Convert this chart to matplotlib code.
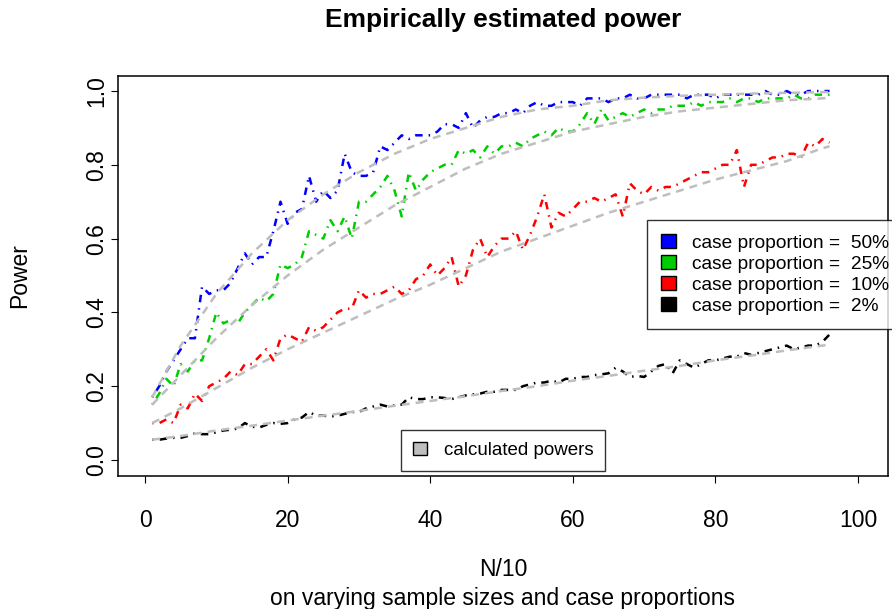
import numpy as np
import matplotlib
matplotlib.use('Agg')
import matplotlib.pyplot as plt
from matplotlib.patches import Patch

plt.rcParams['font.family'] = ['Liberation Sans', 'DejaVu Sans']

# N/10 values of the simulation grid
n = np.arange(1, 97)

# empirical power, one value per N/10
emp50 = [0.17, 0.20, 0.24, 0.27, 0.30, 0.33, 0.33, 0.47, 0.45, 0.46,
         0.46, 0.48, 0.52, 0.56, 0.53, 0.55, 0.55, 0.62, 0.70, 0.64,
         0.67, 0.68, 0.77, 0.70, 0.73, 0.71, 0.73, 0.83, 0.78, 0.77,
         0.77, 0.78, 0.85, 0.84, 0.86, 0.88, 0.87, 0.88, 0.88, 0.88,
         0.89, 0.91, 0.91, 0.90, 0.94, 0.90, 0.92, 0.93, 0.93, 0.94,
         0.94, 0.95, 0.94, 0.96, 0.97, 0.96, 0.96, 0.97, 0.97, 0.97,
         0.96, 0.98, 0.98, 0.98, 0.97, 0.98, 0.98, 0.99, 0.98, 0.98,
         0.99, 0.99, 0.99, 0.99, 0.99, 0.98, 0.99, 0.99, 0.99, 0.98,
         0.99, 0.99, 0.99, 0.99, 0.99, 0.99, 1.00, 0.99, 0.99, 1.00,
         0.99, 0.99, 1.00, 1.00, 1.00, 1.00]
emp25 = [0.15, 0.18, 0.22, 0.20, 0.26, 0.24, 0.27, 0.27, 0.33, 0.40,
         0.37, 0.38, 0.37, 0.40, 0.42, 0.44, 0.43, 0.45, 0.53, 0.52,
         0.53, 0.55, 0.62, 0.61, 0.60, 0.65, 0.62, 0.66, 0.60, 0.70,
         0.70, 0.72, 0.74, 0.77, 0.73, 0.66, 0.78, 0.73, 0.76, 0.78,
         0.79, 0.80, 0.80, 0.84, 0.83, 0.84, 0.82, 0.85, 0.83, 0.85,
         0.85, 0.86, 0.85, 0.87, 0.88, 0.89, 0.88, 0.90, 0.89, 0.89,
         0.91, 0.94, 0.91, 0.95, 0.92, 0.93, 0.94, 0.93, 0.94, 0.95,
         0.94, 0.95, 0.95, 0.96, 0.96, 0.96, 0.97, 0.96, 0.97, 0.97,
         0.97, 0.98, 0.97, 0.98, 0.98, 0.97, 0.98, 0.98, 0.98, 0.98,
         0.99, 0.98, 0.98, 0.99, 0.99, 0.99]
emp10 = [0.10, 0.10, 0.11, 0.10, 0.15, 0.14, 0.18, 0.16, 0.20, 0.21,
         0.22, 0.24, 0.23, 0.26, 0.26, 0.28, 0.30, 0.27, 0.33, 0.34,
         0.33, 0.32, 0.36, 0.35, 0.36, 0.38, 0.40, 0.41, 0.41, 0.46,
         0.44, 0.45, 0.45, 0.46, 0.47, 0.45, 0.46, 0.49, 0.50, 0.53,
         0.50, 0.52, 0.55, 0.47, 0.50, 0.57, 0.60, 0.55, 0.58, 0.60,
         0.60, 0.62, 0.57, 0.61, 0.66, 0.72, 0.63, 0.67, 0.66, 0.68,
         0.70, 0.70, 0.71, 0.70, 0.71, 0.72, 0.66, 0.75, 0.73, 0.72,
         0.74, 0.73, 0.74, 0.74, 0.75, 0.76, 0.77, 0.78, 0.78, 0.79,
         0.80, 0.80, 0.84, 0.74, 0.80, 0.80, 0.81, 0.82, 0.82, 0.83,
         0.83, 0.82, 0.86, 0.85, 0.87, 0.86]
emp02 = [0.055, 0.055, 0.058, 0.060, 0.060, 0.065, 0.072, 0.070, 0.070, 0.075,
         0.080, 0.082, 0.085, 0.100, 0.090, 0.088, 0.095, 0.100, 0.098, 0.100,
         0.110, 0.115, 0.130, 0.120, 0.120, 0.118, 0.120, 0.125, 0.130, 0.130,
         0.140, 0.145, 0.150, 0.145, 0.148, 0.150, 0.170, 0.165, 0.165, 0.170,
         0.170, 0.168, 0.165, 0.170, 0.175, 0.178, 0.180, 0.185, 0.185, 0.190,
         0.190, 0.190, 0.200, 0.205, 0.210, 0.210, 0.215, 0.210, 0.220, 0.220,
         0.225, 0.225, 0.230, 0.232, 0.235, 0.250, 0.240, 0.225, 0.228, 0.225,
         0.240, 0.255, 0.260, 0.235, 0.270, 0.260, 0.250, 0.260, 0.270, 0.270,
         0.275, 0.280, 0.280, 0.290, 0.285, 0.290, 0.295, 0.300, 0.305, 0.310,
         0.300, 0.305, 0.310, 0.310, 0.320, 0.340]

# calculated (theoretical) power
n_calc = [1, 5, 10, 15, 20, 25, 30, 35, 40, 45, 50, 55, 60, 65, 70, 75, 80, 85, 90, 95, 96]
calc50 = [0.17, 0.31, 0.45, 0.56, 0.65, 0.72, 0.78, 0.83, 0.87, 0.90, 0.93,
          0.95, 0.96, 0.975, 0.982, 0.987, 0.99, 0.993, 0.995, 0.997, 0.997]
calc25 = [0.15, 0.23, 0.33, 0.42, 0.50, 0.57, 0.63, 0.69, 0.74, 0.79, 0.83,
          0.86, 0.89, 0.91, 0.93, 0.945, 0.955, 0.965, 0.975, 0.98, 0.982]
calc10 = [0.10, 0.14, 0.195, 0.25, 0.30, 0.345, 0.39, 0.435, 0.475, 0.52, 0.565,
          0.60, 0.635, 0.67, 0.70, 0.73, 0.76, 0.785, 0.81, 0.845, 0.85]
calc02 = [0.055, 0.065, 0.08, 0.093, 0.107, 0.12, 0.133, 0.147, 0.16, 0.173, 0.187,
          0.20, 0.215, 0.228, 0.242, 0.255, 0.27, 0.283, 0.297, 0.31, 0.313]

labels = ['case proportion =  50%', 'case proportion =  25%',
          'case proportion =  10%', 'case proportion =  2%']
colors = ['#0000FF', '#00CD00', '#FF0000', '#000000']

W, H = 892, 609
fig = plt.figure(figsize=(W / 100, H / 100), dpi=100)
ax = fig.add_axes([118 / W, 1 - 476 / H, (888 - 118) / W, (476 - 76) / H])

for y, c in zip([emp50, emp25, emp10, emp02], colors):
    ax.plot(n, y, color=c, lw=1.8, linestyle=(0, (0.6, 2.4, 3.0, 2.4)))
for y in [calc50, calc25, calc10, calc02]:
    ax.plot(n_calc, y, color='#BEBEBE', lw=1.8, linestyle=(0, (3.2, 2.4)))

ax.set_xlim(-3.79, 104.2)
ax.set_ylim(-0.0434, 1.0407)
ax.set_xticks([0, 20, 40, 60, 80, 100])
ax.set_yticks([0.0, 0.2, 0.4, 0.6, 0.8, 1.0])
ax.set_yticklabels(['0.0', '0.2', '0.4', '0.6', '0.8', '1.0'], rotation=90, va='center')
ax.tick_params(axis='both', direction='out', length=5, width=0.8, labelsize=16.5)
ax.tick_params(axis='x', pad=19)
ax.tick_params(axis='y', pad=2)
for s in ax.spines.values():
    s.set_linewidth(1.1)

leg1 = ax.legend([Patch(facecolor=c, edgecolor='black', lw=1) for c in colors], labels,
                 loc='upper left', bbox_to_anchor=((647 - 118) / 770, (476 - 220) / 400),
                 frameon=True, fancybox=False, edgecolor='black', fontsize=13.8,
                 handlelength=0.75, handleheight=0.75, handletextpad=0.85,
                 borderpad=0.75, labelspacing=0.17, borderaxespad=0)
leg1.get_frame().set_linewidth(1)
ax.add_artist(leg1)

leg2 = ax.legend([Patch(facecolor='#BEBEBE', edgecolor='black', lw=1)], ['calculated powers'],
                 loc='upper left', bbox_to_anchor=((401 - 118) / 770, (476 - 430) / 400),
                 frameon=True, fancybox=False, edgecolor='black', fontsize=13.5,
                 handlelength=0.75, handleheight=0.75, handletextpad=0.9,
                 borderpad=0.62, borderaxespad=0)
leg2.get_frame().set_linewidth(1)

fig.text(503 / W, 1 - 20 / H, 'Empirically estimated power', ha='center', va='center',
         fontsize=19, fontweight='bold')
fig.text(503 / W, 1 - 570 / H, 'N/10', ha='center', va='center', fontsize=16.5)
fig.text(503 / W, 1 - 598 / H, 'on varying sample sizes and case proportions',
         ha='center', va='center', fontsize=16.5)
fig.text(20 / W, 1 - 276 / H, 'Power', ha='center', va='center', rotation=90, fontsize=16.5)

fig.savefig('out.png', dpi=100)
